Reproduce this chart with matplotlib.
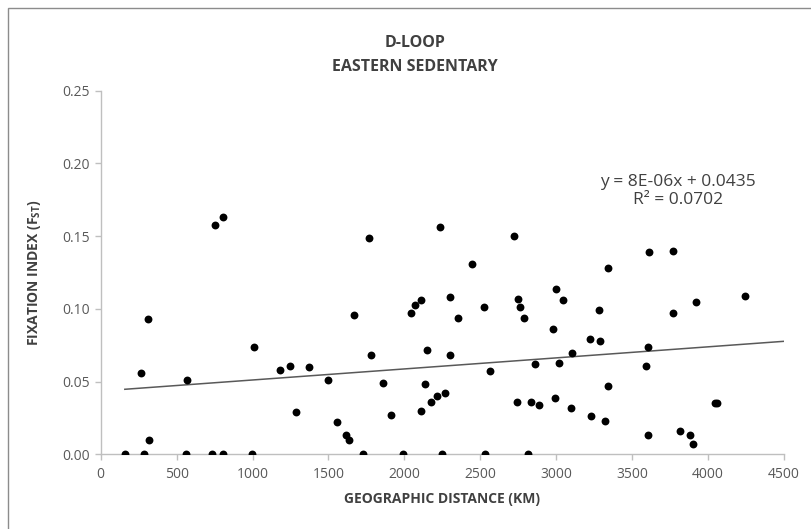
import matplotlib
matplotlib.use('Agg')
import matplotlib.pyplot as plt
from matplotlib.patches import Rectangle
import numpy as np

plt.rcParams['font.family'] = ['Open Sans', 'DejaVu Sans']
plt.rcParams['mathtext.fontset'] = 'custom'
plt.rcParams['mathtext.rm'] = 'Open Sans'
plt.rcParams['mathtext.bf'] = 'Open Sans:bold'

# geographic distance (km) vs. pairwise Fst
distance_km = [
    159, 288, 268, 310, 316, 564, 569, 732, 754, 805, 805, 998, 1011, 1179,
    1250, 1288, 1372, 1495, 1559, 1613, 1637, 1670, 1728, 1770, 1783, 1859,
    1911, 1993, 2041, 2070, 2107, 2111, 2139, 2152, 2174, 2217, 2237, 2250,
    2265, 2300, 2300, 2352, 2448, 2524, 2533, 2561, 2722, 2739, 2750, 2761,
    2785, 2813, 2833, 2861, 2885, 2982, 2993, 2997, 3020, 3047, 3104, 3100,
    3224, 3290, 3283, 3342, 3227, 3321, 3338, 3612, 3607, 3592, 3607, 3767,
    3771, 3815, 3879, 3900, 3918, 4045, 4060, 4244,
]
fst = [
    0.000, 0.000, 0.056, 0.093, 0.010, 0.000, 0.051, 0.000, 0.158, 0.163,
    0.000, 0.000, 0.074, 0.058, 0.061, 0.029, 0.060, 0.051, 0.022, 0.013,
    0.010, 0.096, 0.000, 0.149, 0.068, 0.049, 0.027, 0.000, 0.097, 0.103,
    0.106, 0.030, 0.048, 0.072, 0.036, 0.040, 0.156, 0.000, 0.042, 0.108,
    0.068, 0.094, 0.131, 0.101, 0.000, 0.057, 0.150, 0.036, 0.107, 0.101,
    0.094, 0.000, 0.036, 0.062, 0.034, 0.086, 0.039, 0.114, 0.063, 0.106,
    0.070, 0.032, 0.079, 0.078, 0.099, 0.128, 0.026, 0.023, 0.047, 0.139,
    0.074, 0.061, 0.013, 0.140, 0.097, 0.016, 0.013, 0.007, 0.105, 0.035,
    0.035, 0.109,
]

# linear trendline as drawn by the spreadsheet
trend_slope = 7.6e-6
trend_intercept = 0.0435
equation_text = "y = 8E-06x + 0.0435\nR² = 0.0702"

x_ticks = list(range(0, 4501, 500))
y_ticks = [0.00, 0.05, 0.10, 0.15, 0.20, 0.25]

grey_text = '#595959'
dark_text = '#404040'
axis_grey = '#bfbfbf'

fig = plt.figure(figsize=(8.12, 5.29), dpi=100)
# chart frame: only the left and top edges fall inside the picture
fig.patches.append(Rectangle((8 / 812, -0.1), 1.2, 1.1 - 8 / 529,
                             transform=fig.transFigure, fill=False,
                             edgecolor='#8c8c8c', linewidth=1.0))
ax = fig.add_axes([0.124, 0.1412, 0.8415, 0.6873])

ax.scatter(distance_km, fst, s=32, color='black', zorder=3, linewidths=0)

tx = np.array([min(distance_km), 4500])
ax.plot(tx, trend_slope * tx + trend_intercept, color='#595959',
        linewidth=1.1, zorder=2)

ax.text(3800, 0.181, equation_text, ha='center', va='center',
        fontsize=12.5, color=dark_text, linespacing=1.15)

ax.set_xlim(0, 4500)
ax.set_ylim(0, 0.25)
ax.set_xticks(x_ticks)
ax.set_yticks(y_ticks)
ax.set_yticklabels([f"{v:.2f}" for v in y_ticks])
ax.tick_params(axis='both', direction='out', length=4, width=1,
               color=axis_grey, labelcolor=grey_text, labelsize=10)
ax.tick_params(axis='x', pad=5)
ax.tick_params(axis='y', pad=4)

for side in ['top', 'right']:
    ax.spines[side].set_visible(False)
for side in ['left', 'bottom']:
    ax.spines[side].set_color(axis_grey)
    ax.spines[side].set_linewidth(1)

ax.set_xlabel("GEOGRAPHIC DISTANCE (KM)", fontsize=10, fontweight='bold',
              color=dark_text, labelpad=7)
fig.text(0.043, 0.485, "FIXATION INDEX (F$_{\\bf{ST}}$)", rotation=90,
         ha='center', va='center', fontsize=10, fontweight='bold',
         color=dark_text)

fig.text(0.511, 1 - 43 / 529, "D-LOOP", ha='center', va='center',
         fontsize=11.5, fontweight='bold', color=dark_text)
fig.text(0.511, 1 - 67 / 529, "EASTERN SEDENTARY", ha='center',
         va='center', fontsize=11.5, fontweight='bold', color=dark_text)

fig.savefig('out.png', dpi=100)
